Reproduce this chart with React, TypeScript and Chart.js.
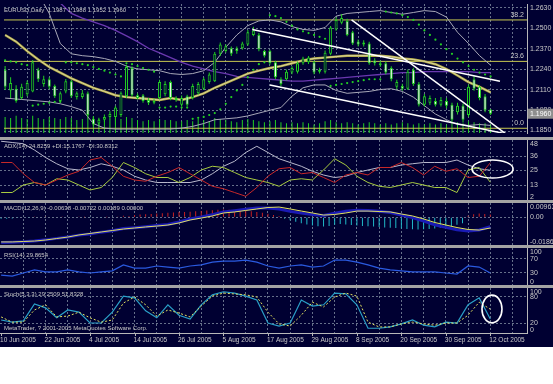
import React, { useEffect, useRef } from "react";
import { Chart, registerables } from "chart.js";

Chart.register(...registerables);

// ---------------- data ----------------
const tickDates = ["10 Jun 2005", "22 Jun 2005", "4 Jul 2005", "14 Jul 2005", "26 Jul 2005", "5 Aug 2005", "17 Aug 2005", "29 Aug 2005", "8 Sep 2005", "20 Sep 2005", "30 Sep 2005", "12 Oct 2005"];
const tickEvery = 8;
const gridBars = [4, 8, 12, 16, 20, 24, 28, 32, 36, 40, 44, 48, 52, 56, 60, 64, 68, 72, 76, 80, 84, 88, 92];

const opens = [1.2238, 1.2107, 1.2118, 1.2059, 1.2083, 1.2101, 1.2238, 1.2148, 1.2178, 1.2136, 1.2041, 1.2101, 1.2166, 1.2065, 1.2065, 1.2089, 1.1928, 1.1898, 1.1922, 1.1940, 1.1940, 1.1952, 1.2071, 1.2249, 1.2077, 1.2077, 1.2047, 1.2029, 1.2059, 1.2083, 1.2160, 1.2059, 1.2017, 1.2071, 1.2059, 1.2089, 1.2118, 1.2160, 1.2166, 1.2339, 1.2356, 1.2374, 1.2374, 1.2374, 1.2398, 1.2458, 1.2458, 1.2356, 1.2356, 1.2285, 1.2178, 1.2178, 1.2220, 1.2226, 1.2279, 1.2285, 1.2285, 1.2238, 1.2226, 1.2339, 1.2493, 1.2535, 1.2547, 1.2475, 1.2416, 1.2410, 1.2404, 1.2297, 1.2279, 1.2279, 1.2249, 1.2130, 1.2136, 1.2118, 1.2238, 1.2148, 1.2017, 1.2029, 1.2041, 1.2017, 1.2041, 1.2017, 1.1970, 1.2011, 1.1952, 1.2178, 1.2130, 1.2071, 1.1987];
const highs = [1.2262, 1.2190, 1.2140, 1.2150, 1.2170, 1.2300, 1.2250, 1.2200, 1.2190, 1.2145, 1.2100, 1.2180, 1.2175, 1.2100, 1.2110, 1.2100, 1.1945, 1.1935, 1.1955, 1.1975, 1.2010, 1.2100, 1.2270, 1.2260, 1.2090, 1.2085, 1.2060, 1.2055, 1.2175, 1.2165, 1.2170, 1.2070, 1.2075, 1.2080, 1.2150, 1.2160, 1.2190, 1.2220, 1.2350, 1.2410, 1.2400, 1.2385, 1.2385, 1.2415, 1.2490, 1.2510, 1.2470, 1.2365, 1.2365, 1.2295, 1.2190, 1.2240, 1.2260, 1.2290, 1.2320, 1.2325, 1.2295, 1.2250, 1.2360, 1.2515, 1.2570, 1.2590, 1.2560, 1.2485, 1.2430, 1.2425, 1.2415, 1.2310, 1.2295, 1.2290, 1.2260, 1.2175, 1.2150, 1.2240, 1.2250, 1.2160, 1.2085, 1.2075, 1.2060, 1.2065, 1.2060, 1.2030, 1.2030, 1.2025, 1.2145, 1.2200, 1.2140, 1.2085, 1.1988];
const lows = [1.2110, 1.2060, 1.2030, 1.2050, 1.2070, 1.2095, 1.2160, 1.2130, 1.2115, 1.2060, 1.2030, 1.2090, 1.2060, 1.2050, 1.2055, 1.1940, 1.1880, 1.1885, 1.1910, 1.1925, 1.1890, 1.1940, 1.2060, 1.2065, 1.2050, 1.2030, 1.2015, 1.2020, 1.2050, 1.2070, 1.2045, 1.2035, 1.2005, 1.2005, 1.2050, 1.2080, 1.2110, 1.2150, 1.2160, 1.2325, 1.2345, 1.2325, 1.2340, 1.2365, 1.2390, 1.2450, 1.2355, 1.2315, 1.2270, 1.2180, 1.2135, 1.2170, 1.2210, 1.2215, 1.2270, 1.2275, 1.2210, 1.2215, 1.2215, 1.2330, 1.2485, 1.2525, 1.2450, 1.2395, 1.2385, 1.2385, 1.2270, 1.2265, 1.2255, 1.2210, 1.2165, 1.2115, 1.2105, 1.2110, 1.2135, 1.2005, 1.2005, 1.2015, 1.2005, 1.2005, 1.1995, 1.1905, 1.1955, 1.1905, 1.1940, 1.2105, 1.2045, 1.1970, 1.1952];
const closes = [1.2130, 1.2154, 1.2041, 1.2130, 1.2154, 1.2285, 1.2178, 1.2178, 1.2130, 1.2071, 1.2089, 1.2166, 1.2071, 1.2089, 1.2089, 1.1952, 1.1892, 1.1922, 1.1940, 1.1958, 1.1999, 1.2089, 1.2255, 1.2077, 1.2059, 1.2041, 1.2029, 1.2041, 1.2160, 1.2148, 1.2059, 1.2047, 1.2059, 1.2017, 1.2136, 1.2148, 1.2178, 1.2208, 1.2339, 1.2398, 1.2386, 1.2339, 1.2356, 1.2404, 1.2475, 1.2487, 1.2368, 1.2327, 1.2279, 1.2190, 1.2148, 1.2226, 1.2249, 1.2279, 1.2309, 1.2315, 1.2220, 1.2226, 1.2345, 1.2505, 1.2553, 1.2565, 1.2458, 1.2404, 1.2398, 1.2398, 1.2279, 1.2279, 1.2267, 1.2220, 1.2178, 1.2160, 1.2118, 1.2226, 1.2148, 1.2017, 1.2071, 1.2059, 1.2017, 1.2047, 1.2011, 1.1922, 1.2011, 1.1922, 1.2130, 1.2118, 1.2059, 1.1982, 1.1960];
const volumes = [15, 14, 16, 14, 13, 16, 14, 13, 15, 14, 13, 15, 14, 12, 13, 16, 15, 13, 12, 13, 14, 13, 15, 14, 12, 11, 12, 11, 13, 12, 12, 11, 11, 12, 11, 13, 12, 11, 14, 13, 12, 11, 10, 12, 13, 12, 11, 10, 11, 12, 10, 9, 10, 9, 10, 9, 8, 9, 11, 12, 10, 9, 10, 9, 8, 9, 10, 9, 8, 9, 8, 9, 10, 9, 8, 9, 8, 9, 8, 9, 8, 9, 10, 9, 11, 10, 9, 9, 8];
const sar = [1.2297, 1.2291, 1.2285, 1.2273, 1.2267, 1.2011, 1.2017, 1.2023, 1.2029, 1.2035, 1.2035, 1.2285, 1.2285, 1.2279, 1.2273, 1.2267, 1.2255, 1.2243, 1.2232, 1.2220, 1.2208, 1.2196, 1.2279, 1.2273, 1.2261, 1.2249, 1.2238, 1.2226, 1.1999, 1.1999, 1.2005, 1.2005, 1.1999, 1.1999, 1.1928, 1.1934, 1.1940, 1.1952, 1.1964, 1.1988, 1.2023, 1.2065, 1.2107, 1.2142, 1.2190, 1.2238, 1.2273, 1.2285, 1.2583, 1.2577, 1.2565, 1.2541, 1.2517, 1.2493, 1.2481, 1.2470, 1.2458, 1.2446, 1.2434, 1.2136, 1.2142, 1.2148, 1.2154, 1.2160, 1.2166, 1.2172, 1.2178, 1.2178, 1.2178, 1.2606, 1.2600, 1.2594, 1.2583, 1.2571, 1.2553, 1.2523, 1.2487, 1.2458, 1.2428, 1.2398, 1.2368, 1.2339, 1.2309, 1.2285, 1.2261, 1.2238, 1.2220, 1.2208, 1.2196];

// series below are read every second bar
const bbUpper = [1.2900, 1.2860, 1.2800, 1.2720, 1.2594, 1.2404, 1.2339, 1.2327, 1.2321, 1.2309, 1.2291, 1.2261, 1.2243, 1.2238, 1.2232, 1.2214, 1.2208, 1.2214, 1.2232, 1.2285, 1.2380, 1.2458, 1.2517, 1.2547, 1.2553, 1.2541, 1.2511, 1.2493, 1.2487, 1.2505, 1.2577, 1.2594, 1.2600, 1.2606, 1.2612, 1.2600, 1.2589, 1.2600, 1.2612, 1.2606, 1.2571, 1.2475, 1.2404, 1.2327, 1.2267];
const bbLower = [1.2059, 1.2053, 1.2047, 1.2041, 1.2035, 1.2023, 1.2005, 1.1982, 1.1898, 1.1869, 1.1863, 1.1863, 1.1863, 1.1863, 1.1863, 1.1863, 1.1869, 1.1880, 1.1898, 1.1922, 1.1928, 1.1934, 1.1946, 1.1964, 1.1982, 1.1999, 1.2071, 1.2124, 1.2142, 1.2142, 1.2107, 1.2089, 1.2095, 1.2101, 1.2113, 1.2118, 1.2101, 1.2065, 1.2011, 1.1958, 1.1922, 1.1892, 1.1886, 1.1892, 1.1886];
const bbMiddle = [1.2458, 1.2416, 1.2356, 1.2303, 1.2255, 1.2220, 1.2184, 1.2154, 1.2124, 1.2101, 1.2077, 1.2065, 1.2059, 1.2053, 1.2047, 1.2059, 1.2047, 1.2065, 1.2089, 1.2124, 1.2154, 1.2184, 1.2214, 1.2232, 1.2249, 1.2261, 1.2279, 1.2297, 1.2309, 1.2315, 1.2321, 1.2327, 1.2327, 1.2327, 1.2327, 1.2321, 1.2309, 1.2303, 1.2291, 1.2273, 1.2243, 1.2202, 1.2160, 1.2130, 1.2095];
const maSlow = [1.2800, 1.2780, 1.2760, 1.2730, 1.2700, 1.2660, 1.2594, 1.2565, 1.2541, 1.2517, 1.2487, 1.2452, 1.2416, 1.2374, 1.2345, 1.2315, 1.2285, 1.2261, 1.2243, 1.2226, 1.2214, 1.2196, 1.2190, 1.2184, 1.2178, 1.2172, 1.2166, 1.2166, 1.2172, 1.2178, 1.2184, 1.2190, 1.2196, 1.2202, 1.2208, 1.2214, 1.2220, 1.2220, 1.2226, 1.2226, 1.2226, 1.2226, 1.2226, 1.2220, 1.2220];

const adx = [48, 47, 46, 41, 35, 30, 26, 25, 27, 30, 28, 25, 20, 17, 15, 15, 15, 15, 17, 22, 28, 32, 39, 44, 39, 34, 31, 28, 24, 21, 19, 20, 23, 25, 27, 27, 29, 30, 31, 31, 31, 33, 29, 26, 24.8];
const plusDI = [7, 7, 13, 15, 13, 18, 17, 13, 9, 11, 19, 31, 27, 22, 19, 19, 15, 19, 25, 28, 27, 23, 19, 17, 15, 12, 17, 18, 17, 25, 34, 29, 20, 15, 12, 11, 13, 15, 13, 11, 11, 7, 25, 27, 15.2];
const minusDI = [31, 31, 22, 15, 13, 17, 21, 24, 33, 35, 28, 20, 17, 16, 20, 23, 27, 22, 17, 12, 10, 7, 4, 11, 20, 26, 27, 22, 23, 19, 15, 21, 23, 21, 27, 27, 31, 27, 21, 28, 24, 26, 19, 20, 30.8];

const macdMain = [-0.0170, -0.0168, -0.0165, -0.0160, -0.0152, -0.0142, -0.0132, -0.0120, -0.0112, -0.0100, -0.0090, -0.0076, -0.0070, -0.0063, -0.0055, -0.0048, -0.0032, -0.0012, 0.0002, 0.0018, 0.0035, 0.0044, 0.0054, 0.0063, 0.0062, 0.0055, 0.0040, 0.0028, 0.0018, 0.0012, 0.0028, 0.0040, 0.0048, 0.0045, 0.0040, 0.0032, 0.0015, -0.0002, -0.0025, -0.0050, -0.0068, -0.0084, -0.0092, -0.0085, -0.0064];
const macdSignal = [-0.0166, -0.0166, -0.0163, -0.0160, -0.0153, -0.0143, -0.0133, -0.0119, -0.0109, -0.0099, -0.0089, -0.0079, -0.0072, -0.0065, -0.0059, -0.0052, -0.0038, -0.0018, -0.0005, 0.0009, 0.0029, 0.0036, 0.0046, 0.0056, 0.0066, 0.0069, 0.0056, 0.0042, 0.0029, 0.0015, 0.0019, 0.0029, 0.0042, 0.0042, 0.0039, 0.0036, 0.0022, 0.0009, -0.0011, -0.0035, -0.0052, -0.0069, -0.0082, -0.0086, -0.0072];
// histogram read for every bar
const macdHist = [-0.0010, -0.0010, -0.0008, -0.0005, -0.0003, -0.0002, 0.0002, 0.0003, 0.0002, 0.0004, 0.0003, 0.0005, 0.0004, 0.0003, 0.0002, 0.0001, -0.0002, -0.0003, -0.0002, 0.0001, 0.0003, 0.0006, 0.0010, 0.0008, 0.0015, 0.0018, 0.0020, 0.0022, 0.0025, 0.0028, 0.0030, 0.0032, 0.0035, 0.0036, 0.0038, 0.0040, 0.0042, 0.0045, 0.0048, 0.0050, 0.0052, 0.0050, 0.0048, 0.0046, 0.0044, 0.0040, 0.0036, 0.0030, 0.0024, 0.0016, 0.0008, -0.0010, -0.0020, -0.0030, -0.0040, -0.0048, -0.0055, -0.0060, -0.0062, -0.0058, -0.0050, -0.0045, -0.0048, -0.0052, -0.0055, -0.0058, -0.0060, -0.0062, -0.0065, -0.0068, -0.0070, -0.0072, -0.0075, -0.0078, -0.0080, -0.0082, -0.0080, -0.0078, -0.0075, -0.0070, -0.0065, -0.0060, -0.0050, -0.0040, 0.0010, 0.0020, 0.0025, 0.0022, 0.0019];

const rsi = [24, 21, 30, 39, 33, 33, 39, 33, 30, 33, 36, 53, 44, 44, 50, 47, 44, 50, 53, 61, 64, 64, 67, 61, 50, 44, 50, 53, 47, 50, 67, 67, 61, 53, 44, 39, 36, 33, 33, 33, 30, 27, 50, 47, 29.9];
const stochMain = [27, 22, 25, 64, 55, 32, 50, 45, 20, 20, 45, 82, 78, 48, 32, 62, 38, 29, 62, 85, 92, 89, 82, 73, 20, 13, 20, 73, 59, 62, 89, 87, 62, 8, 8, 11, 18, 27, 15, 11, 22, 20, 62, 78, 29.3];
const stochSignal = [34, 22, 22, 50, 62, 34, 36, 45, 32, 22, 27, 66, 80, 62, 36, 50, 43, 34, 59, 82, 89, 87, 85, 80, 45, 18, 13, 38, 68, 57, 80, 89, 82, 22, 11, 11, 18, 22, 18, 15, 20, 20, 38, 68, 51.8];

const priceTicks = [1.2630, 1.2500, 1.2370, 1.2240, 1.2110, 1.1980, 1.1850];
const adxTicks = [48, 36, 25, 13, 2];
const macdTicks = [0.00963, 0, -0.01866];
const rsiTicks = [100, 70, 30, 0];
const stochTicks = [100, 80, 20, 0];

const fibLevels = [1.2553, 1.2291, 1.1868];
const fibLabels = ["38.2", "23.6", "0.0"];
// trend lines: [bar, price] end points
const trendUpper = [[44.8, 1.2493], [89.7, 1.2166]];
const trendLower = [[48.0, 1.2142], [92.4, 1.1821]];
const trendSteep = [[62.8, 1.2553], [92.4, 1.1791]];
// marker ellipses: [bar, value] centre and [bars, value] radii
const adxMark = { c: [88.4, 25.8], r: [3.7, 7.2] };
const stochMark = { c: [88.3, 52.3], r: [1.8, 32] };

const titleMain = "EURUSD,Daily  " + [opens[88], highs[88], lows[88], closes[88]].map((v) => v.toFixed(4)).join(" ");
const titleAdx = "ADX(14) 24.8259 +DI:15.1767 -DI:30.8312";
const titleMacd = "MACD(12,26,9) -0.00638 -0.00722 0.00189 0.00000";
const titleRsi = "RSI(14) 29.8654";
const titleStoch = "Stoch(5,3,3) 29.2509 51.8328";
const footer = "MetaTrader, ? 2001-2005 MetaQuotes Software Corp.";

// ---------------- styles ----------------
const BG = "#000032";
const GRID = "#66708a";
const AXIS = "#b8b8b8";
const TEXT = "#c8c8c8";
const GREEN = "#22d022";
const FONT = '"Liberation Sans", Arial, sans-serif';
const AXIS_W = 26;
const X_MIN = -0.2;
const X_MAX = 94.6;

const every1 = (vals: number[]) => vals.map((y, i) => ({ x: i, y }));
const every2 = (vals: number[]) => vals.map((y, k) => ({ x: k * 2, y }));
const seg = (p: number[][]) => p.map(([x, y]) => ({ x, y }));

function xScale(border: boolean) {
  return {
    type: "linear",
    min: X_MIN,
    max: X_MAX,
    offset: false,
    afterBuildTicks: (s: any) => {
      s.ticks = gridBars.map((v) => ({ value: v }));
    },
    afterFit: (s: any) => {
      s.height = 0;
    },
    ticks: { display: false },
    grid: { color: GRID, drawTicks: false, offset: false },
    border: { display: border, color: AXIS, dash: [2, 2] },
  };
}

function yScale(min: number, max: number, grid: number[]) {
  return {
    type: "linear",
    position: "right",
    min,
    max,
    afterBuildTicks: (s: any) => {
      s.ticks = grid.map((v) => ({ value: v }));
    },
    afterFit: (s: any) => {
      s.width = AXIS_W;
    },
    ticks: { display: false },
    grid: { color: GRID, drawTicks: false },
    border: { display: true, color: AXIS, dash: [2, 2] },
  };
}

function drawEllipse(chart: any, ctx: CanvasRenderingContext2D, m: { c: number[]; r: number[] }) {
  const xs = chart.scales.x;
  const ys = chart.scales.y;
  const cx = xs.getPixelForValue(m.c[0]);
  const cy = ys.getPixelForValue(m.c[1]);
  const rx = Math.abs(xs.getPixelForValue(m.c[0] + m.r[0]) - cx);
  const ry = Math.abs(ys.getPixelForValue(m.c[1] + m.r[1]) - cy);
  ctx.beginPath();
  ctx.ellipse(cx, cy, rx, ry, 0, 0, Math.PI * 2);
  ctx.strokeStyle = "#ffffff";
  ctx.lineWidth = 1.6;
  ctx.stroke();
}

function decor(spec: any) {
  return {
    id: "decor",
    beforeDraw(chart: any) {
      const { ctx, width, height } = chart;
      ctx.save();
      ctx.fillStyle = BG;
      ctx.fillRect(0, 0, width, height);
      ctx.restore();
    },
    afterDraw(chart: any) {
      const { ctx, chartArea } = chart;
      const ys = chart.scales.y;
      ctx.save();
      ctx.fillStyle = TEXT;
      ctx.textBaseline = "middle";
      ctx.textAlign = "left";
      ctx.font = `7px ${FONT}`;
      spec.labels.forEach((v: number) => {
        let py = ys.getPixelForValue(v);
        py = Math.max(chartArea.top + 4, Math.min(chartArea.bottom - 3, py));
        ctx.fillText(spec.fmt(v), chartArea.right + 3, py);
      });
      ctx.font = `6px ${FONT}`;
      ctx.fillText(spec.title, 4, chartArea.top + spec.titleY);
      if (spec.extra) spec.extra(chart, ctx);
      ctx.restore();
    },
  };
}

function baseOptions(scales: any, padBottom = 0) {
  return {
    responsive: false,
    animation: false,
    events: [],
    layout: { padding: { left: 0, right: 0, top: 0, bottom: padBottom } },
    plugins: { legend: { display: false }, tooltip: { enabled: false }, title: { display: false } },
    elements: { point: { radius: 0 }, line: { borderWidth: 1, tension: 0 } },
    scales,
  };
}

const line = (data: any, color: string, order: number, extra: any = {}) => ({
  type: "line",
  data,
  borderColor: color,
  borderWidth: 1,
  pointRadius: 0,
  fill: false,
  order,
  ...extra,
});

function mainConfig(): any {
  const bodyColors = closes.map((c, i) => (c >= opens[i] ? BG : "#ffffff"));
  return {
    type: "line",
    data: {
      datasets: [
        line(seg(trendUpper), "#ffffff", 0, { borderWidth: 1.5 }),
        line(seg(trendLower), "#ffffff", 0, { borderWidth: 1.5 }),
        line(seg(trendSteep), "#ffffff", 0, { borderWidth: 1.5 }),
        {
          type: "bar",
          data: closes.map((c, i) => ({ x: i, y: [opens[i], c] })),
          backgroundColor: bodyColors,
          borderColor: GREEN,
          borderWidth: 1,
          borderSkipped: false,
          barThickness: 3,
          maxBarThickness: 3,
          grouped: false,
          minBarLength: 1,
          inflateAmount: 0,
          order: 1,
        },
        {
          type: "bar",
          data: highs.map((h, i) => ({ x: i, y: [lows[i], h] })),
          backgroundColor: GREEN,
          borderWidth: 0,
          barThickness: 1,
          maxBarThickness: 1,
          grouped: false,
          inflateAmount: 0,
          order: 2,
        },
        line(every1(sar), GREEN, 3, { showLine: false, pointRadius: 1.1, pointBackgroundColor: GREEN, pointBorderWidth: 0 }),
        line(every2(bbUpper), "#a8a8b8", 4),
        line(every2(bbLower), "#a8a8b8", 4),
        line(every2(bbMiddle), "#e4e0b8", 4.5, { borderWidth: 0.8 }),
        line(every2(bbMiddle), "#b0a840", 5, { borderWidth: 2.4 }),
        line(every2(maSlow), "#6a38b0", 6, { borderWidth: 1.3 }),
        ...fibLevels.map((v) => line([{ x: X_MIN, y: v }, { x: X_MAX, y: v }], "#c8c850", 7)),
        {
          type: "bar",
          yAxisID: "yv",
          data: every1(volumes),
          backgroundColor: GREEN,
          barThickness: 1,
          maxBarThickness: 1,
          grouped: false,
          inflateAmount: 0,
          order: 8,
        },
      ],
    },
    options: baseOptions({
      x: xScale(false),
      y: yScale(1.18381, 1.26538, priceTicks),
      yv: { type: "linear", display: false, min: 0, max: 120 },
    }),
    plugins: [
      decor({
        labels: priceTicks,
        fmt: (v: number) => v.toFixed(4),
        title: titleMain,
        titleY: 6,
        extra: (chart: any, ctx: CanvasRenderingContext2D) => {
          const ys = chart.scales.y;
          const { chartArea } = chart;
          ctx.textAlign = "right";
          ctx.font = `7px ${FONT}`;
          fibLevels.forEach((v, k) => {
            ctx.fillText(fibLabels[k], chartArea.right - 3, ys.getPixelForValue(v) - 5);
          });
          const py = ys.getPixelForValue(closes[closes.length - 1]);
          ctx.fillStyle = "#8e8e8e";
          ctx.fillRect(chartArea.right + 1, py - 5, AXIS_W - 1, 10);
          ctx.fillStyle = "#ffffff";
          ctx.textAlign = "left";
          ctx.fillText(closes[closes.length - 1].toFixed(4), chartArea.right + 3, py);
        },
      }),
    ],
  };
}

function adxConfig(): any {
  return {
    type: "line",
    data: {
      datasets: [
        line(every2(minusDI), "#c82828", 1),
        line(every2(plusDI), "#a8cc40", 2),
        line(every2(adx), "#b8b8cc", 3),
      ],
    },
    options: baseOptions({ x: xScale(false), y: yScale(1, 49, [36, 25, 13]) }),
    plugins: [
      decor({
        labels: adxTicks,
        fmt: (v: number) => String(v),
        title: titleAdx,
        titleY: 6,
        extra: (chart: any, ctx: CanvasRenderingContext2D) => drawEllipse(chart, ctx, adxMark),
      }),
    ],
  };
}

function macdConfig(): any {
  return {
    type: "line",
    data: {
      datasets: [
        line(every2(macdSignal), "#e0e060", 1),
        line(every2(macdMain), "#1a1ab4", 2, { borderWidth: 3 }),
        {
          type: "bar",
          data: every1(macdHist),
          backgroundColor: macdHist.map((v) => (v >= 0 ? "#c82020" : "#20b8c8")),
          barThickness: 1,
          maxBarThickness: 1,
          grouped: false,
          inflateAmount: 0,
          order: 3,
        },
      ],
    },
    options: baseOptions({ x: xScale(false), y: yScale(-0.01866, 0.00963, [0]) }),
    plugins: [
      decor({
        labels: macdTicks,
        fmt: (v: number) => (v === 0 ? "0.00" : v.toFixed(5)),
        title: titleMacd,
        titleY: 5,
      }),
    ],
  };
}

function rsiConfig(): any {
  return {
    type: "line",
    data: { datasets: [line(every2(rsi), "#2a5ae0", 1, { borderWidth: 1.2 })] },
    options: baseOptions({ x: xScale(false), y: yScale(-4.3, 101.4, [70, 30]) }),
    plugins: [decor({ labels: rsiTicks, fmt: (v: number) => String(v), title: titleRsi, titleY: 7 })],
  };
}

function stochConfig(): any {
  return {
    type: "line",
    data: {
      datasets: [
        line(every2(stochSignal), "#e0e060", 1, { borderDash: [2, 2] }),
        line(every2(stochMain), "#2aa0c8", 2, { borderWidth: 1.2 }),
      ],
    },
    options: baseOptions({ x: xScale(true), y: yScale(-3, 100.7, [80, 20]) }, 14),
    plugins: [
      decor({
        labels: stochTicks,
        fmt: (v: number) => String(v),
        title: titleStoch,
        titleY: 6,
        extra: (chart: any, ctx: CanvasRenderingContext2D) => {
          drawEllipse(chart, ctx, stochMark);
          const { chartArea } = chart;
          const xs = chart.scales.x;
          ctx.fillStyle = TEXT;
          ctx.font = `6px ${FONT}`;
          ctx.textAlign = "left";
          ctx.fillText(footer, 4, chartArea.bottom - 5);
          ctx.font = `6.5px ${FONT}`;
          ctx.strokeStyle = AXIS;
          ctx.lineWidth = 1;
          tickDates.forEach((d, k) => {
            const px = xs.getPixelForValue(k * tickEvery);
            ctx.beginPath();
            ctx.moveTo(Math.round(px) + 0.5, chartArea.bottom);
            ctx.lineTo(Math.round(px) + 0.5, chartArea.bottom + 3);
            ctx.stroke();
            ctx.fillText(d, px - 1, chartArea.bottom + 7.5);
          });
        },
      }),
    ],
  };
}

const panes = [
  { key: "main", top: 0, h: 137, make: mainConfig },
  { key: "adx", top: 140, h: 60, make: adxConfig },
  { key: "macd", top: 203, h: 42, make: macdConfig },
  { key: "rsi", top: 248, h: 37, make: rsiConfig },
  { key: "stoch", top: 288, h: 59, make: stochConfig },
];

export default function App() {
  const refs = [
    useRef<HTMLCanvasElement>(null),
    useRef<HTMLCanvasElement>(null),
    useRef<HTMLCanvasElement>(null),
    useRef<HTMLCanvasElement>(null),
    useRef<HTMLCanvasElement>(null),
  ];

  useEffect(() => {
    const charts: Chart[] = [];
    panes.forEach((p, i) => {
      const c = refs[i].current;
      if (c) charts.push(new Chart(c, p.make()));
    });
    return () => charts.forEach((c) => c.destroy());
  }, []);

  return (
    <div style={{ position: "fixed", left: 0, top: 0, width: 553, height: 347, background: "#a4a4a4" }}>
      {panes.map((p, i) => (
        <canvas
          key={p.key}
          ref={refs[i]}
          width={553}
          height={p.h}
          style={{ position: "absolute", left: 0, top: p.top, width: 553, height: p.h }}
        />
      ))}
    </div>
  );
}
